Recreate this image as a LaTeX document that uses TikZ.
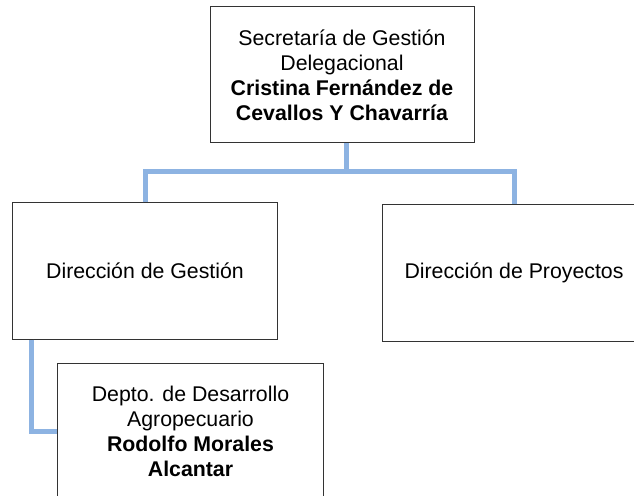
\documentclass[tikz,border=0pt]{standalone}
\usepackage{fontspec}
\setmainfont{Liberation Sans}
\definecolor{connblue}{RGB}{141,179,226}
\begin{document}
\begin{tikzpicture}[x=1bp,y=-1bp,
  box/.style={draw=black!80, line width=1bp, fill=white, minimum width=264bp, minimum height=136bp, inner sep=0pt, align=center, font=\fontsize{21.3bp}{25bp}\selectfont},
  conn/.style={draw=connblue, line width=5bp}]
\useasboundingbox (0,0) rectangle (634,496);
\clip (0,0) rectangle (634,496);
\node[box] (top) at (342,75) {Secretaría de Gestión\\Delegacional\\\textbf{Cristina Fernández de}\\\textbf{Cevallos Y Chavarría}};
\node[box] (left) at (145,271) {Dirección de Gestión};
\node[box] (right) at (514,273) {Dirección de Proyectos};
\node[box, minimum width=265bp, minimum height=137bp] (dept) at (190.5,431.5) {Depto. de Desarrollo\\Agropecuario\\\textbf{Rodolfo Morales}\\\textbf{Alcantar}};
\coordinate (bus) at (346,171.5);
\coordinate (drop) at (31,400);
\draw[conn] (top.south -| bus) -- (bus);
\draw[conn] (left.north) |- (bus) -| (right.north);
\draw[conn] (left.south -| drop) |- (dept.west);
\end{tikzpicture}
\end{document}
